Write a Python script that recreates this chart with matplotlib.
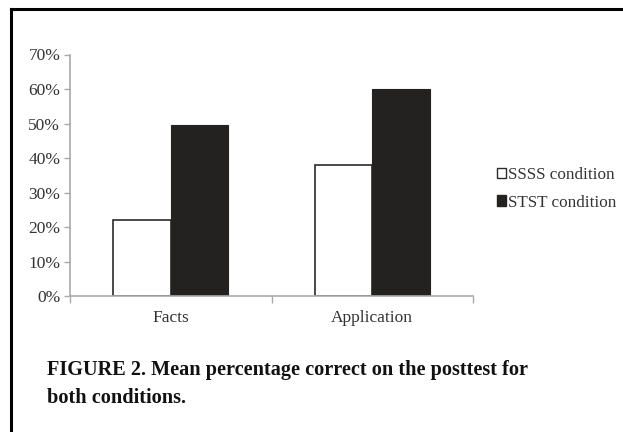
import matplotlib
matplotlib.use("Agg")
import matplotlib.pyplot as plt
from matplotlib.lines import Line2D
from matplotlib.patches import Patch
import numpy as np

categories = ["Facts", "Application"]
series_names = ["SSSS condition", "STST condition"]
ssss_values = [22, 38]
stst_values = [49.7, 60]
y_ticks = [0, 10, 20, 30, 40, 50, 60, 70]
y_tick_labels = ["0%", "10%", "20%", "30%", "40%", "50%", "60%", "70%"]
caption_lines = ["FIGURE 2. Mean percentage correct on the posttest for",
                 "both conditions."]

W, H = 623, 432
fig = plt.figure(figsize=(W / 100, H / 100), dpi=100)
fig.patch.set_facecolor("white")

ax = fig.add_axes([70 / W, 1 - 296 / H, (473 - 70) / W, (296 - 54.5) / H])

serif = ["Liberation Serif", "DejaVu Serif"]
x = np.arange(len(categories))
bw = 0.285
ax.bar(x - bw / 2, ssss_values, bw, color="white", edgecolor="#2a2a2a",
       linewidth=1.2, label=series_names[0], zorder=2)
ax.bar(x + bw / 2, stst_values, bw, color="#232220", edgecolor="#232220",
       linewidth=0.8, label=series_names[1], zorder=2)

ax.set_xlim(-0.5, 1.5)
ax.set_ylim(0, 70)
ax.set_yticks(y_ticks)
ax.set_yticklabels(y_tick_labels, fontfamily=serif, fontsize=12.5, color="#333333")
ax.set_xticks(x)
ax.set_xticklabels(categories, fontfamily=serif, fontsize=12.5, color="#333333")
ax.tick_params(axis="x", length=0, pad=10)
ax.tick_params(axis="y", length=4, width=1, color="#aaaaaa", pad=3)
# category boundary ticks
ax.set_xticks([-0.5, 0.5, 1.5], minor=True)
ax.tick_params(axis="x", which="minor", length=5, width=1, color="#aaaaaa")

for s in ["top", "right"]:
    ax.spines[s].set_visible(False)
for s in ["left", "bottom"]:
    ax.spines[s].set_color("#aaaaaa")
    ax.spines[s].set_linewidth(1.2)

handles = [Patch(facecolor="white", edgecolor="#2a2a2a", linewidth=1.0),
           Patch(facecolor="#232220", edgecolor="#232220")]
leg = fig.legend(handles, series_names, loc="upper left",
                 bbox_to_anchor=(497 / W, 1 - 167 / H), frameon=False,
                 prop={"family": serif, "size": 12.3},
                 handlelength=0.55, handleheight=0.55, handletextpad=0.12,
                 labelspacing=0.68, borderaxespad=0, borderpad=0)
for t in leg.get_texts():
    t.set_color("#333333")

fig.text(47 / W, 1 - 370 / H, caption_lines[0], fontfamily=serif,
         fontweight="bold", fontsize=14.6, color="#111111", va="center")
fig.text(47 / W, 1 - 398 / H, caption_lines[1], fontfamily=serif,
         fontweight="bold", fontsize=14.6, color="#111111", va="center")

# page frame lines
fig.add_artist(Line2D([11 / W, 1], [1 - 8.5 / H, 1 - 8.5 / H],
                      transform=fig.transFigure, color="black", linewidth=2.2))
fig.add_artist(Line2D([11 / W, 11 / W], [0, 1 - 8.5 / H],
                      transform=fig.transFigure, color="black", linewidth=2.2))

fig.savefig("out.png", dpi=100, facecolor="white")
